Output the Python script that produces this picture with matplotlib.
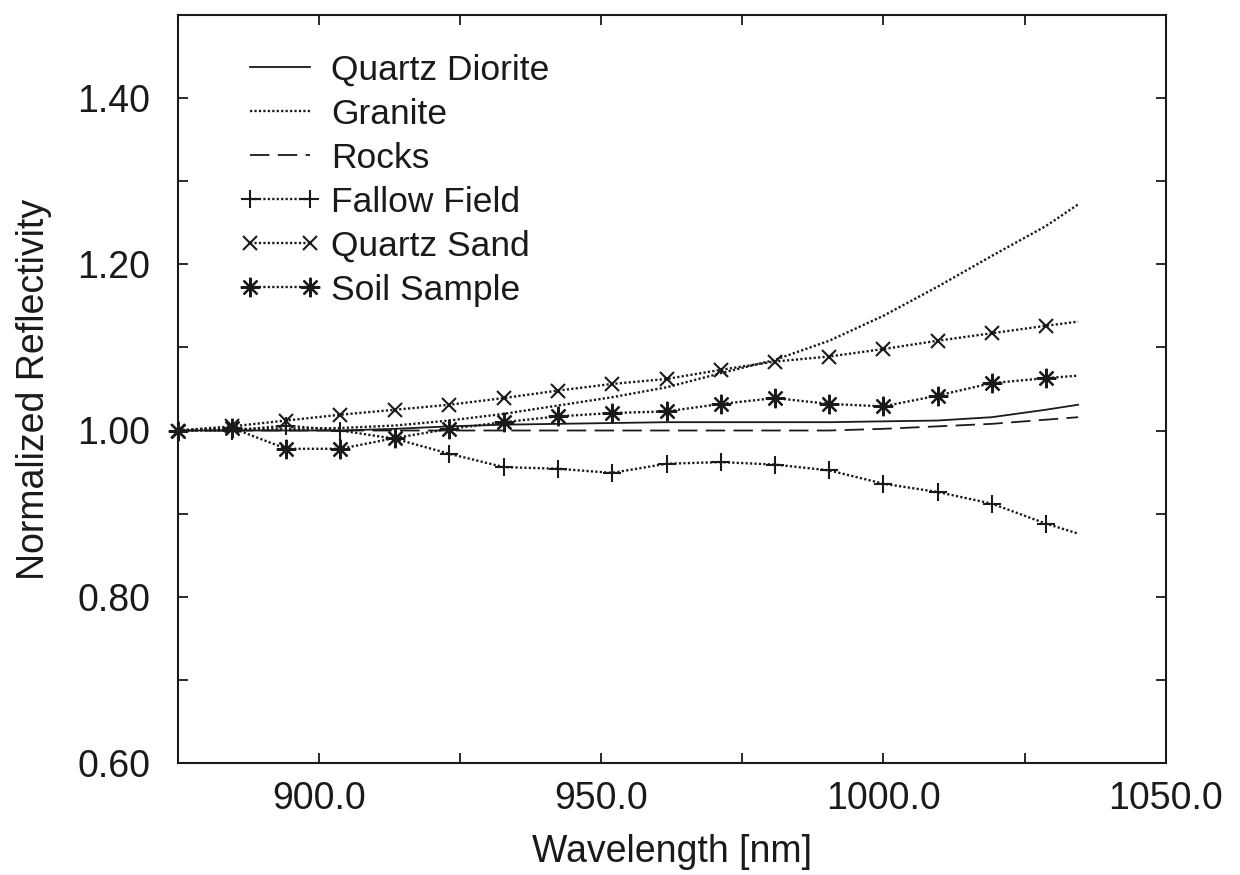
#!/usr/bin/env python3

# Normalized reflectivity of several ground samples vs wavelength

import matplotlib
matplotlib.use('Agg')
import matplotlib.pyplot as plt

plt.rcParams['font.family'] = ['Liberation Sans', 'DejaVu Sans']
plt.rcParams['lines.scale_dashes'] = False

# wavelengths of the data points [nm]; last one is the curve end (no marker)
wavelength = [875.0, 884.6, 894.2, 903.8, 913.5, 923.1, 932.7, 942.3, 951.9,
              961.6, 971.2, 980.8, 990.4, 1000.0, 1009.6, 1019.2, 1028.8, 1034.5]

quartz_diorite = [1.000, 1.000, 1.000, 1.000, 1.002, 1.005, 1.007, 1.008, 1.009,
                  1.010, 1.010, 1.010, 1.010, 1.011, 1.012, 1.016, 1.025, 1.031]
granite = [1.000, 1.002, 1.002, 1.003, 1.006, 1.012, 1.020, 1.030, 1.040,
           1.052, 1.069, 1.085, 1.108, 1.138, 1.173, 1.210, 1.246, 1.272]
rocks = [1.000, 1.000, 1.000, 1.000, 1.000, 1.000, 1.000, 1.000, 1.000,
         1.000, 1.000, 1.000, 1.000, 1.002, 1.005, 1.008, 1.013, 1.016]
fallow_field = [1.000, 1.000, 1.006, 1.000, 0.990, 0.972, 0.956, 0.954, 0.949,
                0.960, 0.962, 0.959, 0.952, 0.936, 0.926, 0.912, 0.888, 0.876]
quartz_sand = [1.000, 1.005, 1.012, 1.019, 1.025, 1.031, 1.039, 1.048, 1.056,
               1.062, 1.073, 1.083, 1.089, 1.098, 1.108, 1.117, 1.126, 1.131]
soil_sample = [1.000, 1.003, 0.978, 0.978, 0.991, 1.002, 1.010, 1.017, 1.021,
               1.023, 1.032, 1.039, 1.032, 1.029, 1.042, 1.057, 1.063, 1.066]

x_ticks = [875, 900, 925, 950, 975, 1000, 1025, 1050]
x_labels = ['', '900.0', '', '950.0', '', '1000.0', '', '1050.0']
y_ticks = [0.6, 0.7, 0.8, 0.9, 1.0, 1.1, 1.2, 1.3, 1.4, 1.5]
y_labels = ['0.60', '', '0.80', '', '1.00', '', '1.20', '', '1.40', '']

ink = '#1a1a1a'
dots = (1.6, 1.6)
n_mark = len(wavelength) - 1

fig = plt.figure(figsize=(12.4, 8.75), dpi=100)
ax = fig.add_axes([0.1435, 0.128, 0.7965, 0.855])

ax.plot(wavelength, quartz_diorite, '-', color=ink, lw=1.3, label='Quartz Diorite')
ax.plot(wavelength, granite, color=ink, lw=1.7, dashes=dots, label='Granite')
ax.plot(wavelength, rocks, color=ink, lw=1.3, dashes=(14, 6), label='Rocks')
ax.plot(wavelength, fallow_field, color=ink, lw=1.7, dashes=dots, marker='+',
        ms=13, mew=1.5, markevery=slice(0, n_mark), clip_on=False, label='Fallow Field')
ax.plot(wavelength, quartz_sand, color=ink, lw=1.7, dashes=dots, marker='x',
        ms=10, mew=1.5, markevery=slice(0, n_mark), clip_on=False, label='Quartz Sand')
ax.plot(wavelength, soil_sample, color=ink, lw=1.7, dashes=dots, marker=(8, 2, 0),
        ms=14, mew=1.6, markevery=slice(0, n_mark), clip_on=False, label='Soil Sample')

ax.set_xlim(875, 1050)
ax.set_ylim(0.6, 1.5)
ax.set_xticks(x_ticks)
ax.set_xticklabels(x_labels)
ax.set_yticks(y_ticks)
ax.set_yticklabels(y_labels)
ax.tick_params(direction='in', length=7, width=1.3, color=ink,
               top=True, right=True, labelsize=27, labelcolor=ink)
ax.tick_params(axis='x', pad=13)
ax.tick_params(axis='y', pad=20)
for s in ax.spines.values():
    s.set_linewidth(1.5)
    s.set_color(ink)

ax.set_xlabel('Wavelength [nm]', fontsize=27, color=ink, labelpad=12)
ax.set_ylabel('Normalized Reflectivity', fontsize=27, color=ink, labelpad=18)

ax.legend(loc='upper left', bbox_to_anchor=(0.062, 0.948), frameon=False,
          fontsize=25.5, handlelength=2.3, handletextpad=0.3, labelspacing=0.31,
          numpoints=2, borderaxespad=0, borderpad=0, labelcolor=ink)

fig.savefig('out.png', dpi=100)
